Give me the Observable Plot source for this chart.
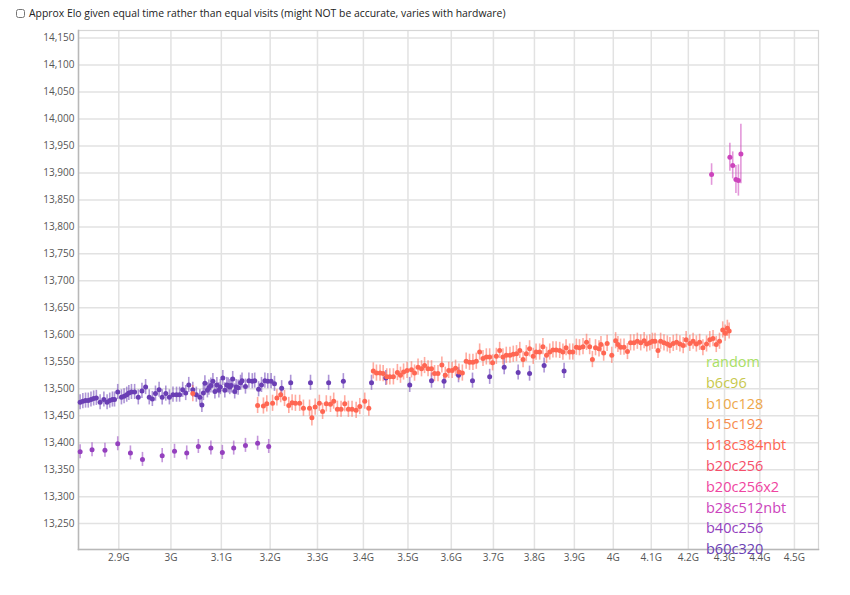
<!DOCTYPE html>
<html><head><meta charset="utf-8">
<script src="https://cdn.jsdelivr.net/npm/d3@7"></script>
<script src="https://cdn.jsdelivr.net/npm/@observablehq/plot@0.6"></script>
<style>
body{margin:0;background:#fff;font-family:"Open Sans",sans-serif;}
#top{position:absolute;left:16px;top:6px;font-size:10.4px;color:#222;display:flex;align-items:center;white-space:nowrap}
#top input{margin:0 4px 0 0;width:9px;height:9px}
#chart{position:absolute;left:0;top:25px}
#legend{position:absolute;left:706px;top:352px;font-size:14.5px;line-height:20.8px;pointer-events:none}
</style></head>
<body>
<div id="top"><input type="checkbox"><span>Approx Elo given equal time rather than equal visits (might NOT be accurate, varies with hardware)</span></div>
<div id="chart"></div>
<div id="legend"></div>
<script>
const seriesNames = ["random","b6c96","b10c128","b15c192","b18c384nbt","b20c256","b20c256x2","b28c512nbt","b40c256","b60c320"];
const seriesColors = ["#a8e064","#c8c84c","#eea84a","#f78c4c","#ff6652","#f64e6a","#ef44a0","#cc44bc","#9440be","#6a3eb4"];
const xTicks = [2.9,3.0,3.1,3.2,3.3,3.4,3.5,3.6,3.7,3.8,3.9,4.0,4.1,4.2,4.3,4.4,4.5];
const yTicks = [13250,13300,13350,13400,13450,13500,13550,13600,13650,13700,13750,13800,13850,13900,13950,14000,14050,14100,14150];

// [x in G, elo]
const b60c320 = [
[2.828,13475],[2.833,13477],[2.838,13478],[2.843,13478],[2.848,13480],[2.853,13482],[2.858,13483],
[2.865,13475],[2.872,13480],[2.878,13475],[2.883,13478],[2.888,13480],[2.892,13480],[2.898,13494],
[2.905,13484],[2.910,13486],[2.915,13489],[2.919,13492],[2.924,13494],[2.930,13494],[2.937,13484],
[2.944,13496],[2.951,13503],[2.958,13484],[2.964,13481],[2.970,13491],[2.977,13498],[2.983,13484],
[2.990,13491],[2.997,13484],[3.004,13489],[3.011,13489],[3.017,13489],[3.023,13498],[3.029,13492],
[3.035,13507],[3.043,13498],[3.050,13489],[3.057,13484],[3.061,13470],[3.064,13492],[3.067,13510],
[3.072,13497],[3.075,13502],[3.079,13506],[3.083,13514],[3.087,13495],[3.091,13507],[3.095,13497],
[3.098,13503],[3.103,13520],[3.107,13497],[3.111,13507],[3.114,13506],[3.117,13503],[3.120,13506],
[3.123,13518],[3.127,13495],[3.130,13503],[3.134,13502],[3.139,13511],[3.142,13515],[3.149,13504],
[3.156,13515],[3.163,13514],[3.168,13515],[3.176,13499],[3.182,13507],[3.189,13515],[3.195,13514],
[3.202,13514],[3.209,13509],[3.224,13501],[3.243,13511],[3.285,13511],
[3.324,13511],[3.356,13514],[3.418,13511],[3.450,13520],[3.504,13507],[3.554,13515],[3.583,13514],
[3.617,13525],[3.650,13515],[3.691,13522],[3.726,13540],[3.760,13530],[3.788,13528],[3.824,13543],[3.874,13533]
];
const b40c256 = [
[2.828,13383],[2.850,13387],[2.874,13386],[2.898,13398],[2.922,13381],[2.945,13369],[2.983,13376],[3.007,13384],
[3.031,13381],[3.054,13393],[3.079,13390],[3.102,13382],[3.125,13390],[3.149,13395],[3.174,13399],[3.197,13393]
];
const b18c384nbt = [
[3.043,13491],
[3.174,13469],[3.186,13468],[3.193,13472],[3.205,13473],[3.214,13483],[3.222,13489],[3.230,13482],[3.239,13469],
[3.246,13474],[3.253,13473],[3.262,13473],[3.270,13464],[3.283,13464],[3.288,13446],[3.295,13466],[3.304,13473],
[3.311,13458],[3.319,13472],[3.328,13471],[3.335,13477],[3.343,13462],[3.351,13462],[3.359,13472],[3.367,13462],
[3.375,13462],[3.384,13460],[3.392,13467],[3.403,13477],[3.412,13464],
[3.422,13533],[3.429,13529],[3.437,13529],[3.444,13528],[3.452,13522],[3.459,13522],[3.467,13522],[3.476,13530],
[3.483,13525],[3.490,13531],[3.498,13534],[3.508,13535],[3.515,13529],[3.523,13540],[3.531,13537],[3.538,13543],
[3.546,13537],[3.554,13537],[3.561,13528],[3.569,13528],[3.578,13544],[3.586,13525],[3.594,13534],[3.602,13534],
[3.610,13538],[3.618,13531],[3.626,13529],[3.635,13551],[3.643,13549],[3.651,13549],[3.659,13551],[3.667,13568],
[3.675,13556],[3.683,13559],[3.691,13559],[3.698,13548],[3.707,13560],[3.715,13571],[3.723,13559],[3.731,13562],
[3.740,13562],[3.748,13564],[3.756,13565],[3.764,13571],[3.772,13554],[3.780,13565],[3.788,13574],[3.797,13560],
[3.804,13568],[3.813,13568],[3.821,13578],[3.830,13562],[3.838,13568],[3.846,13572],[3.854,13572],[3.863,13571],
[3.871,13568],[3.879,13576],[3.888,13568],[3.896,13568],[3.905,13577],[3.913,13576],[3.922,13578],[3.931,13586],
[3.939,13578],[3.946,13554],[3.954,13576],[3.963,13574],[3.968,13582],[3.975,13566],[3.984,13584],[3.996,13562],
[4.006,13589],[4.012,13582],[4.019,13577],[4.028,13577],[4.037,13569],[4.045,13585],[4.054,13585],[4.063,13588],
[4.072,13585],[4.081,13589],[4.088,13583],[4.096,13585],[4.103,13588],[4.110,13588],[4.118,13571],[4.125,13588],
[4.134,13585],[4.143,13583],[4.150,13580],[4.159,13584],[4.168,13586],[4.177,13583],[4.186,13580],[4.194,13591],
[4.204,13584],[4.213,13588],[4.222,13583],[4.231,13586],[4.240,13576],[4.250,13583],[4.259,13591],[4.268,13593],
[4.277,13582],[4.286,13588],[4.295,13609],[4.302,13603],[4.308,13612],[4.313,13607]
];
// [x in G, elo, error half-width]
const b28c512nbt = [[4.264,13897,20],[4.315,13929,26],[4.323,13914,25],[4.332,13888,26],[4.339,13886,29],[4.346,13935,55]];
// error half-widths (Elo) read for series drawn with roughly uniform bars
const b60c320Err = 14, b40c256Err = 13, b18c384nbtErr = 15;

const rows = [
  ...b60c320.map(([x, elo]) => ({net: "b60c320", x, elo, err: b60c320Err})),
  ...b40c256.map(([x, elo]) => ({net: "b40c256", x, elo, err: b40c256Err})),
  ...b18c384nbt.map(([x, elo]) => ({net: "b18c384nbt", x, elo, err: b18c384nbtErr})),
  ...b28c512nbt.map(([x, elo, err]) => ({net: "b28c512nbt", x, elo, err}))
];

const chart = Plot.plot({
  width: 850, height: 545,
  marginLeft: 78, marginRight: 32, marginTop: 5, marginBottom: 21,
  style: {fontFamily: "'Open Sans', sans-serif", fontSize: "10px", color: "#555", overflow: "visible"},
  x: {type: "log", domain: [2.825, 4.571], label: null},
  y: {domain: [13202, 14164], label: null},
  color: {domain: seriesNames, range: seriesColors},
  marks: [
    Plot.gridX(xTicks, {stroke: "#e2e2e2", strokeOpacity: 1, strokeWidth: 1.5}),
    Plot.gridY(yTicks, {stroke: "#e2e2e2", strokeOpacity: 1, strokeWidth: 1.5}),
    Plot.frame({stroke: "#d6d6d6", strokeWidth: 1.2}),
    Plot.frame({anchor: "left", stroke: "#b8b8b8", strokeWidth: 1.5}),
    Plot.frame({anchor: "bottom", stroke: "#b8b8b8", strokeWidth: 1.5}),
    Plot.axisX(xTicks, {tickSize: 0, tickPadding: 4, tickFormat: d => d + "G", fill: "#555"}),
    Plot.axisY(yTicks, {tickSize: 0, tickPadding: 4, tickFormat: d3.format(","), fill: "#555"}),
    Plot.ruleX(rows, {x: "x", y1: d => d.elo - d.err, y2: d => d.elo + d.err, stroke: "net", strokeWidth: 1.6, strokeOpacity: 0.55}),
    Plot.dot(rows, {x: "x", y: "elo", fill: "net", r: 2.5})
  ]
});
document.getElementById("chart").appendChild(chart);

const legend = document.getElementById("legend");
seriesNames.forEach((name, i) => {
  const div = document.createElement("div");
  div.textContent = name;
  div.style.color = seriesColors[i];
  legend.appendChild(div);
});
</script>
</body></html>
